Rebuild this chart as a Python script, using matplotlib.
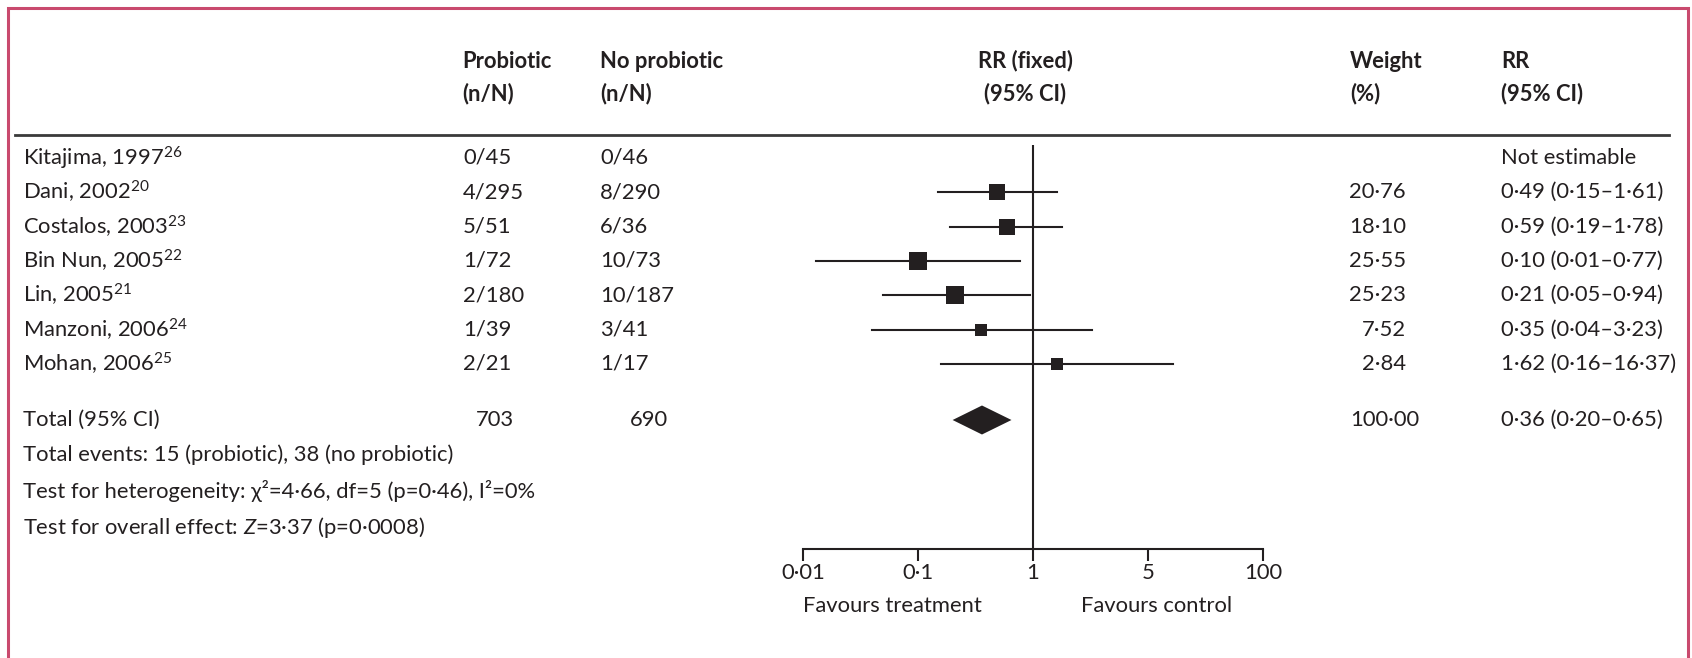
import numpy as np
import matplotlib
matplotlib.use('Agg')
from matplotlib import pyplot

# Table data
studies = ['Kitajima, 1997', 'Dani, 2002', 'Costalos, 2003', 'Bin Nun, 2005',
           'Lin, 2005', 'Manzoni, 2006', 'Mohan, 2006']
refs = ['26', '20', '23', '22', '21', '24', '25']
probiotic = ['0/45', '4/295', '5/51', '1/72', '2/180', '1/39', '2/21']
no_probiotic = ['0/46', '8/290', '6/36', '10/73', '10/187', '3/41', '1/17']
rr = [np.nan, 0.49, 0.59, 0.10, 0.21, 0.35, 1.62]
rr_lo = [np.nan, 0.15, 0.19, 0.013, 0.05, 0.04, 0.16]
rr_hi = [np.nan, 1.61, 1.78, 0.77, 0.94, 3.23, 16.37]
weight = [np.nan, 20.76, 18.10, 25.55, 25.23, 7.52, 2.84]

total_n = ['703', '690']
total_rr, total_lo, total_hi = 0.36, 0.20, 0.65
total_weight = 100.00
footnotes = ['Total events: 15 (probiotic), 38 (no probiotic)',
             'Test for heterogeneity: \u03c7\u00b2=4\u00b766, df=5 (p=0\u00b746), I\u00b2=0%',
             'Test for overall effect: $Z$=3\u00b737 (p=0\u00b70008)']

tick_vals = [0.01, 0.1, 1, 10, 100]
tick_labels = ['0\u00b701', '0\u00b71', '1', '5', '100']

INK = '#231f20'
FRAME = '#c94a6e'
FONT = 'Lato'
W, H = 1692, 658


def _fmt(val):
    '''Lancet style decimal point.'''
    return '{0:.2f}'.format(val).replace('.', '\u00b7')


def main():
    '''main method.'''
    pyplot.rcParams['font.family'] = [FONT, 'DejaVu Sans']
    pyplot.rcParams['mathtext.fontset'] = 'custom'
    pyplot.rcParams['mathtext.rm'] = FONT
    pyplot.rcParams['mathtext.it'] = FONT + ':italic'
    fs = 15.8

    fig = pyplot.figure(figsize=(W / 100, H / 100), dpi=100)
    bg = fig.add_axes([0, 0, 1, 1])
    bg.set_xlim(0, W)
    bg.set_ylim(H, 0)
    bg.axis('off')

    # frame and header rule
    bg.plot([8, 8, 1688, 1688], [H + 5, 8, 8, H + 5], color=FRAME, lw=2.2,
            solid_joinstyle='miter')
    bg.plot([15, 1669], [135, 135], color='#3a3a3a', lw=2.0)

    # header
    hdr = dict(fontsize=fs, fontweight='bold', color=INK, va='center')
    bg.text(462, 61, 'Probiotic', **hdr)
    bg.text(462, 94, '(n/N)', **hdr)
    bg.text(600, 61, 'No probiotic', **hdr)
    bg.text(600, 94, '(n/N)', **hdr)
    bg.text(1025, 61, 'RR (fixed)', ha='center', **hdr)
    bg.text(1025, 94, '(95% CI)', ha='center', **hdr)
    bg.text(1350, 61, 'Weight', **hdr)
    bg.text(1350, 94, '(%)', **hdr)
    bg.text(1501, 61, 'RR', **hdr)
    bg.text(1501, 94, '(95% CI)', **hdr)

    rows = 158 + 34.3 * np.arange(len(studies))
    txt = dict(fontsize=fs, color=INK, va='center')
    for i, y in enumerate(rows):
        bg.text(23, y, studies[i] + '$^{' + refs[i] + '}$', **txt)
        bg.text(463, y, probiotic[i], **txt)
        bg.text(600, y, no_probiotic[i], **txt)
        if np.isnan(rr[i]):
            bg.text(1501, y, 'Not estimable', **txt)
        else:
            bg.text(1406, y, _fmt(weight[i]), ha='right', **txt)
            bg.text(1501, y, '{0} ({1}\u2013{2})'.format(
                _fmt(rr[i]), _fmt(rr_lo[i]), _fmt(rr_hi[i])), **txt)

    y_tot = 420
    bg.text(23, y_tot, 'Total (95% CI)', **txt)
    bg.text(476, y_tot, total_n[0], **txt)
    bg.text(630, y_tot, total_n[1], **txt)
    bg.text(1350, y_tot, _fmt(total_weight), **txt)
    bg.text(1501, y_tot, '{0} ({1}\u2013{2})'.format(
        _fmt(total_rr), _fmt(total_lo), _fmt(total_hi)), **txt)
    for j, line in enumerate(footnotes):
        bg.text(23, 455 + 36 * j, line, **txt)

    # forest plot on a log axis: 1 at x=1033, 115 px per decade
    x0, x1, y_axis, y_top = 780, 1290, 549, 140
    ax = fig.add_axes([x0 / W, (H - y_axis) / H, (x1 - x0) / W, (y_axis - y_top) / H])
    ax.set_xscale('log')
    ax.set_xlim(10 ** ((x0 - 1033) / 115), 10 ** ((x1 - 1033) / 115))
    ax.set_ylim(y_axis, y_top)
    ax.patch.set_alpha(0)
    for side in ['top', 'right', 'left']:
        ax.spines[side].set_visible(False)
    ax.spines['bottom'].set_bounds(0.01, 100)
    ax.spines['bottom'].set_color(INK)
    ax.spines['bottom'].set_linewidth(1.5)
    ax.set_yticks([])
    ax.set_xticks(tick_vals)
    ax.set_xticklabels(tick_labels)
    ax.xaxis.set_minor_locator(matplotlib.ticker.NullLocator())
    ax.tick_params(axis='x', direction='out', length=8.6, width=1.5, color=INK,
                   labelsize=fs, labelcolor=INK, pad=1.5)

    ax.vlines(1, 145, y_axis, color=INK, lw=1.5)
    for i, y in enumerate(rows):
        if np.isnan(rr[i]):
            continue
        ax.plot([rr_lo[i], rr_hi[i]], [y, y], color=INK, lw=1.5)
        side = 11 + 0.25 * weight[i]
        ax.plot(rr[i], y, marker='s', color=INK, markersize=side * 0.72, mew=0)

    ax.fill([total_lo, total_rr, total_hi, total_rr],
            [y_tot, y_tot - 14.5, y_tot, y_tot + 14.5], color=INK, lw=0)

    bg.text(803, 606, 'Favours treatment', **txt)
    bg.text(1081, 606, 'Favours control', **txt)

    fig.savefig('out.png', dpi=100)


if __name__ == '__main__':
    main()
